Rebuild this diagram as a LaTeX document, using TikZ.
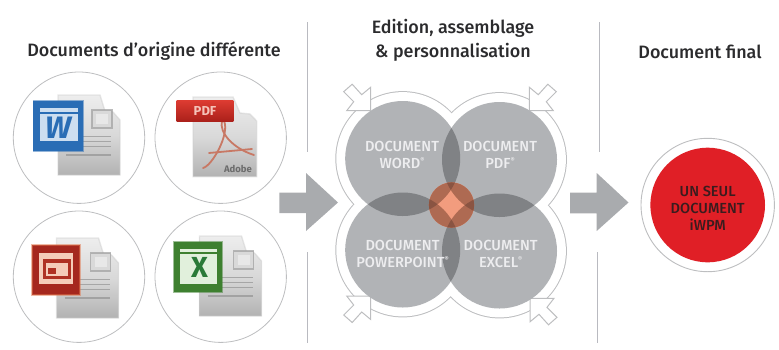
\documentclass[tikz,border=0pt]{standalone}
\usepackage{fontspec}
\setmainfont{Fira Sans}
\newfontfamily\mediumface{Fira Sans Medium}
\usetikzlibrary{calc}
\definecolor{ringgray}{HTML}{BDBEC0}
\definecolor{rulegray}{HTML}{B9BAC0}
\definecolor{arrowgray}{HTML}{A9ABAE}
\definecolor{petal}{HTML}{B1B3B6}
\definecolor{lens}{HTML}{808285}
\definecolor{corelight}{HTML}{F29C7E}
\definecolor{coremid}{HTML}{AE6A52}
\definecolor{coredark}{HTML}{8A5442}
\definecolor{inkdark}{HTML}{2B2B2D}
\definecolor{petaltext}{HTML}{EDEDEF}
\definecolor{redfill}{HTML}{E01F26}
\definecolor{redtext}{HTML}{3A1C1E}
\definecolor{wordblue}{HTML}{2A6DB5}
\definecolor{wordpale}{HTML}{CDDEF0}
\definecolor{wordink}{HTML}{2A6DB5}
\definecolor{swoosh}{HTML}{C87864}
\definecolor{pdftop}{HTML}{DE3C32}
\definecolor{pdfbot}{HTML}{AA201A}
\definecolor{pdfink}{HTML}{F5C3B9}
\definecolor{pptred}{HTML}{A5281E}
\definecolor{pptedge}{HTML}{E17850}
\definecolor{pptpale}{HTML}{F5CDB9}
\definecolor{pptin}{HTML}{AF3223}
\definecolor{xlgreen}{HTML}{3E8030}
\definecolor{xlpale}{HTML}{E1F0DC}
\definecolor{xlink}{HTML}{2A7A38}
\tikzset{
  titletext/.style={font=\fontsize{17.9}{24}\selectfont\mediumface, text=inkdark, align=center, inner sep=0pt},
  petallabel/.style={font=\fontsize{14.6}{17.2}\selectfont\mediumface, text=petaltext, align=center, inner sep=0pt},
  redlabel/.style={font=\fontsize{14.6}{16.8}\selectfont\mediumface, text=redtext, align=center, inner sep=0pt},
  iconring/.style={draw=ringgray, line width=.8pt, fill=white},
  rulebar/.style={draw=rulegray, line width=1.3pt},
  blockarrow/.style={fill=arrowgray, draw=none},
  entryarrow/.style={draw=ringgray, line width=1pt, fill=white, line join=miter},
  pagefill/.style={top color=gray!14!white, bottom color=gray!60!white, middle color=gray!30!white, draw=gray!40!white, draw opacity=.45, line width=1.4pt},
  pageline/.style={draw=gray!85, draw opacity=.7, line width=1.1pt},
  softedge/.style={draw opacity=.5, line width=1.6pt},
  swooshline/.style={draw=swoosh, line width=1.8pt, line cap=round},
}
\newcommand{\DocPage}{%
  \path[pagefill] (58,95) -- (100,95) -- (105,111) -- (113,112) -- (120,120) -- (120,175) -- (58,175) -- cycle;
  \path[draw=gray!75, fill=gray!30!white, line width=1.8pt, draw opacity=.7] (92,110) rectangle (112,128);
  \path[fill=white, fill opacity=.4] (96,114) rectangle (108,124);
  \foreach \yy in {136.7,141.7,146.7}{\draw[pageline] (80,\yy) -- (111,\yy);}
  \draw[pageline] (66,155) -- (111,155);
}
\newcommand{\EntryArrow}{%
  \path[entryarrow] (0,0) -- (0,-23.5) -- (-9,-16) -- (-18.5,-26.5) -- (-27,-19) -- (-17,-9) -- (-24,0) -- cycle;
}
\newcommand{\regmark}{\raisebox{.42em}{\fontsize{6.5}{6.5}\selectfont ®}}
\begin{document}
\begin{tikzpicture}[x=1pt,y=-1pt]
\useasboundingbox (0,0) rectangle (779,349);
% titles
\node[titletext] (t1) at (154,51.5) {Documents d’origine différente};
\node[titletext] (t2) at (453,40) {Edition, assemblage\\\& personnalisation};
\node[titletext] (t3) at (700,51.5) {Document final};
% rules
\draw[rulebar] (307.7,22) -- (307.7,152);
\draw[rulebar] (307.7,252) -- (307.7,343);
\draw[rulebar] (599.7,22) -- (599.7,152);
\draw[rulebar] (597.7,252) -- (597.7,343);
% icon rings
\draw[iconring] (79,137.7) circle (65.7pt);
\draw[iconring] (220.7,137.7) circle (65.7pt);
\draw[iconring] (79,276.7) circle (65.7pt);
\draw[iconring] (220.7,276.7) circle (65.7pt);
% Word icon
\DocPage
\path[fill=wordblue, draw=wordblue, softedge] (33.3,100.7) rectangle (82.7,150.7);
\path[fill=wordpale] (40,108) rectangle (78,141);
\path[fill=wordblue] (40,111.5) rectangle (78,114);
\node[inner sep=0pt, text=wordink, font=\fontsize{31}{31}\selectfont\bfseries\itshape] (wordmark) at (58,128) {W};
% PDF icon
\path[pagefill] (193,97) -- (233,97) -- (240,113) -- (250,114) -- (256.7,121) -- (256.7,176.7) -- (193,176.7) -- cycle;
\draw[swooshline] (222,121) .. controls (219,132) and (232,148) .. (254,155);
\draw[swooshline] (203,168) .. controls (212,166) and (230,134) .. (224,121);
\draw[swooshline] (209,153) -- (252,149);
\node[inner sep=0pt, text=gray!85!black, font=\fontsize{9.5}{9.5}\selectfont\bfseries] (adobe) at (238,168.5) {Adobe};
\path[top color=pdftop, bottom color=pdfbot] (176.7,100) rectangle (233.3,121.7);
\node[inner sep=0pt, text=pdfink, font=\fontsize{13}{13}\selectfont\bfseries] (pdfmark) at (205,110.5) {PDF};
% PowerPoint icon
\begin{scope}[shift={(-1.5,143)}]
  \DocPage
\end{scope}
\path[fill=pptred, draw=pptedge, softedge] (31.7,245) rectangle (80,295);
\path[fill=pptpale] (39,253) rectangle (73,284);
\path[fill=pptin] (43,259) rectangle (71,279);
\path[fill=pptpale] (46,263) rectangle (68,276);
\path[fill=pptin] (48,268) rectangle (56,274);
% Excel icon
\begin{scope}[shift={(141.5,141)}]
  \DocPage
\end{scope}
\path[fill=xlgreen, draw=xlgreen, softedge] (174,241.7) rectangle (221.7,291.7);
\path[fill=xlpale] (180,249) rectangle (216.7,284);
\path[fill=xlgreen] (180,252) rectangle (216.7,254);
\node[inner sep=0pt, text=xlink, font=\fontsize{29}{29}\selectfont\bfseries] (excelmark) at (199.5,267.5) {X};
% block arrows
\path[blockarrow] (279.3,192.7) -- (306,192.7) -- (306,173) -- (338,202.5) -- (306,231) -- (306,213) -- (279.3,213) -- cycle;
\path[blockarrow] (570,192.7) -- (596.7,192.7) -- (596.7,173) -- (628.5,202.5) -- (596.7,231) -- (596.7,213.3) -- (570,213.3) -- cycle;
% clover
\coordinate (ca) at (402.7,158.5);
\coordinate (cb) at (499.5,159.5);
\coordinate (cc) at (402.7,250);
\coordinate (cd) at (499.5,251);
\coordinate (cx) at (451.5,205);
\foreach \cc in {ca,cb,cc,cd}{\fill[ringgray] (\cc) circle (67.4pt);}
\foreach \cc in {ca,cb,cc,cd}{\fill[white] (\cc) circle (66.4pt);}
\begin{scope}[shift={(370.7,110.7)}]\EntryArrow\end{scope}
\begin{scope}[shift={(529.3,110.7)},xscale=-1]\EntryArrow\end{scope}
\begin{scope}[shift={(370.7,296)},yscale=-1]\EntryArrow\end{scope}
\begin{scope}[shift={(530,298.3)},xscale=-1,yscale=-1]\EntryArrow\end{scope}
\foreach \cc in {ca,cb,cc,cd}{\fill[petal] (\cc) circle (57.5pt);}
\begin{scope}\clip (ca) circle (57.5pt);\fill[lens] (cb) circle (57.5pt);\fill[lens] (cc) circle (57.5pt);\end{scope}
\begin{scope}\clip (cd) circle (57.5pt);\fill[lens] (cb) circle (57.5pt);\fill[lens] (cc) circle (57.5pt);\end{scope}
% core
\fill[corelight] (cx) circle (22.6pt);
\begin{scope}
  \clip (cx) circle (22.6pt);
  \foreach \cc in {ca,cb,cc,cd}{\fill[coremid] (\cc) circle (57.5pt);}
  \begin{scope}\clip (ca) circle (57.5pt);\fill[coredark] (cb) circle (57.5pt);\fill[coredark] (cc) circle (57.5pt);\end{scope}
  \begin{scope}\clip (cd) circle (57.5pt);\fill[coredark] (cb) circle (57.5pt);\fill[coredark] (cc) circle (57.5pt);\end{scope}
\end{scope}
% petal labels
\node[petallabel] (pa) at (402,155) {DOCUMENT\\WORD\regmark};
\node[petallabel] (pb) at (500,155) {DOCUMENT\\PDF\regmark};
\node[petallabel] (pc) at (402.5,253.8) {DOCUMENT\\POWERPOINT\regmark};
\node[petallabel] (pd) at (500.7,253.8) {DOCUMENT\\EXCEL\regmark};
% final document
\draw[ringgray, line width=.9pt, fill=white] (707.7,205) circle (66.7pt);
\fill[redfill] (707.7,205) circle (57.3pt);
\node[redlabel] (fin) at (707.7,208.3) {UN SEUL\\DOCUMENT\\iWPM};
\end{tikzpicture}
\end{document}
